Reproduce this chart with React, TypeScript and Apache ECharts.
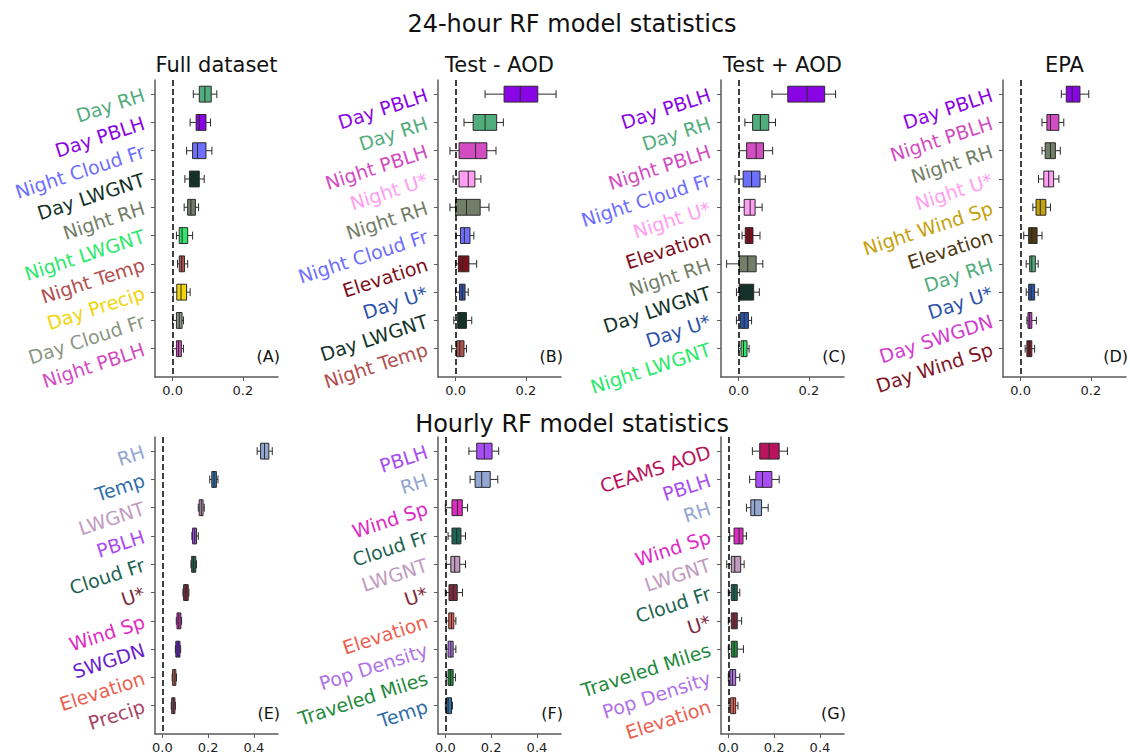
import React, { useEffect, useRef } from 'react';
import * as echarts from 'echarts';

const FONT = 'DejaVu Sans';

// ---------- Panel A: Full dataset ----------
const labelsA = ['Day RH', 'Day PBLH', 'Night Cloud Fr', 'Day LWGNT', 'Night RH', 'Night LWGNT', 'Night Temp', 'Day Precip', 'Day Cloud Fr', 'Night PBLH'];
const colorsA = ['#52ad7d', '#8a05e6', '#6e6eff', '#13332a', '#737e68', '#2de86c', '#b0504f', '#f2d40a', '#8c9684', '#d24cc2'];
// [lower whisker, Q1, median, Q3, upper whisker]
const statsA = [
  [0.059, 0.076, 0.092, 0.110, 0.126],
  [0.050, 0.067, 0.076, 0.095, 0.108],
  [0.040, 0.057, 0.071, 0.095, 0.112],
  [0.035, 0.048, 0.060, 0.076, 0.090],
  [0.033, 0.043, 0.052, 0.065, 0.074],
  [0.011, 0.019, 0.027, 0.043, 0.057],
  [0.014, 0.019, 0.026, 0.034, 0.043],
  [0.002, 0.012, 0.024, 0.040, 0.050],
  [0.000, 0.011, 0.019, 0.027, 0.031],
  [0.000, 0.011, 0.017, 0.025, 0.031],
];

// ---------- Panel B: Test - AOD ----------
const labelsB = ['Day PBLH', 'Day RH', 'Night PBLH', 'Night U*', 'Night RH', 'Night Cloud Fr', 'Elevation', 'Day U*', 'Day LWGNT', 'Night Temp'];
const colorsB = ['#8a05e6', '#52ad7d', '#d24cc2', '#ff9ef2', '#737e68', '#6e6eff', '#7d0f1c', '#2b52a8', '#13332a', '#b0504f'];
const statsB = [
  [0.084, 0.138, 0.184, 0.234, 0.286],
  [0.024, 0.050, 0.084, 0.117, 0.136],
  [-0.016, 0.010, 0.057, 0.089, 0.115],
  [-0.007, 0.010, 0.036, 0.055, 0.072],
  [-0.016, 0.000, 0.031, 0.070, 0.095],
  [0.001, 0.014, 0.025, 0.041, 0.052],
  [0.000, 0.008, 0.020, 0.038, 0.060],
  [0.000, 0.011, 0.019, 0.027, 0.036],
  [-0.005, 0.006, 0.017, 0.031, 0.046],
  [-0.011, 0.003, 0.012, 0.024, 0.031],
];

// ---------- Panel C: Test + AOD ----------
const labelsC = ['Day PBLH', 'Day RH', 'Night PBLH', 'Night Cloud Fr', 'Night U*', 'Elevation', 'Night RH', 'Day LWGNT', 'Day U*', 'Night LWGNT'];
const colorsC = ['#8a05e6', '#52ad7d', '#d24cc2', '#6e6eff', '#ff9ef2', '#7d0f1c', '#737e68', '#13332a', '#2b52a8', '#2de86c'];
const statsC = [
  [0.095, 0.140, 0.195, 0.245, 0.276],
  [0.018, 0.040, 0.062, 0.086, 0.105],
  [0.002, 0.023, 0.050, 0.071, 0.097],
  [-0.010, 0.013, 0.037, 0.061, 0.076],
  [0.002, 0.016, 0.033, 0.047, 0.067],
  [0.010, 0.019, 0.030, 0.041, 0.061],
  [-0.034, 0.002, 0.026, 0.050, 0.069],
  [-0.006, 0.002, 0.016, 0.043, 0.059],
  [-0.006, 0.005, 0.016, 0.028, 0.037],
  [0.000, 0.007, 0.014, 0.024, 0.030],
];

// ---------- Panel D: EPA ----------
const labelsD = ['Day PBLH', 'Night PBLH', 'Night RH', 'Night U*', 'Night Wind Sp', 'Elevation', 'Day RH', 'Day U*', 'Day SWGDN', 'Day Wind Sp'];
const colorsD = ['#8a05e6', '#d24cc2', '#737e68', '#ff9ef2', '#c4a20c', '#4d3812', '#52ad7d', '#2b52a8', '#d23ccf', '#7e1526'];
const statsD = [
  [0.116, 0.130, 0.147, 0.169, 0.194],
  [0.061, 0.075, 0.085, 0.109, 0.123],
  [0.061, 0.070, 0.085, 0.099, 0.113],
  [0.051, 0.066, 0.080, 0.094, 0.109],
  [0.035, 0.044, 0.056, 0.072, 0.085],
  [0.009, 0.023, 0.032, 0.047, 0.061],
  [0.016, 0.026, 0.032, 0.042, 0.050],
  [0.016, 0.023, 0.030, 0.040, 0.050],
  [0.018, 0.021, 0.026, 0.032, 0.045],
  [0.013, 0.018, 0.025, 0.032, 0.040],
];

// ---------- Panel E: Hourly ----------
const labelsE = ['RH', 'Temp', 'LWGNT', 'PBLH', 'Cloud Fr', 'U*', 'Wind Sp', 'SWGDN', 'Elevation', 'Precip'];
const colorsE = ['#94a6d2', '#2f6ea8', '#c29bc0', '#a84df5', '#1d6352', '#7d2a3c', '#e02ac4', '#6a1fcf', '#ec6050', '#a84468'];
const statsE = [
  [0.414, 0.429, 0.446, 0.465, 0.480],
  [0.207, 0.216, 0.226, 0.236, 0.243],
  [0.157, 0.161, 0.170, 0.178, 0.183],
  [0.129, 0.132, 0.141, 0.149, 0.157],
  [0.125, 0.128, 0.136, 0.146, 0.149],
  [0.090, 0.093, 0.103, 0.113, 0.116],
  [0.061, 0.064, 0.072, 0.081, 0.084],
  [0.057, 0.059, 0.068, 0.077, 0.080],
  [0.043, 0.045, 0.052, 0.059, 0.062],
  [0.039, 0.041, 0.048, 0.055, 0.057],
];

// ---------- Panel F: Hourly ----------
const labelsF = ['PBLH', 'RH', 'Wind Sp', 'Cloud Fr', 'LWGNT', 'U*', 'Elevation', 'Pop Density', 'Traveled Miles', 'Temp'];
const colorsF = ['#a84df5', '#94a6d2', '#e02ac4', '#1d6352', '#c29bc0', '#7d2a3c', '#ec6050', '#b072e6', '#1f8a3c', '#2f6ea8'];
const statsF = [
  [0.103, 0.137, 0.170, 0.204, 0.233],
  [0.108, 0.130, 0.159, 0.196, 0.229],
  [0.000, 0.029, 0.053, 0.074, 0.097],
  [0.012, 0.029, 0.049, 0.068, 0.088],
  [0.004, 0.024, 0.041, 0.063, 0.088],
  [0.000, 0.016, 0.034, 0.052, 0.075],
  [0.004, 0.015, 0.027, 0.037, 0.046],
  [0.004, 0.012, 0.024, 0.034, 0.046],
  [0.004, 0.012, 0.022, 0.034, 0.044],
  [0.000, 0.004, 0.012, 0.027, 0.031],
];

// ---------- Panel G: Hourly ----------
const labelsG = ['CEAMS AOD', 'PBLH', 'RH', 'Wind Sp', 'LWGNT', 'Cloud Fr', 'U*', 'Traveled Miles', 'Pop Density', 'Elevation'];
const colorsG = ['#b8135c', '#a84df5', '#94a6d2', '#e02ac4', '#c29bc0', '#1d6352', '#7d2a3c', '#1f8a3c', '#b072e6', '#ec6050'];
const statsG = [
  [0.105, 0.137, 0.178, 0.222, 0.258],
  [0.093, 0.120, 0.149, 0.190, 0.222],
  [0.079, 0.098, 0.115, 0.145, 0.174],
  [0.006, 0.025, 0.047, 0.064, 0.079],
  [-0.007, 0.013, 0.028, 0.054, 0.069],
  [0.000, 0.013, 0.025, 0.039, 0.050],
  [0.000, 0.013, 0.025, 0.039, 0.058],
  [0.000, 0.013, 0.025, 0.039, 0.066],
  [0.000, 0.007, 0.018, 0.032, 0.050],
  [0.003, 0.010, 0.022, 0.032, 0.042],
];

const topTicks = [0, 0.2];
const bottomTicks = [0, 0.2, 0.4];
const topTitles = ['Full dataset', 'Test - AOD', 'Test + AOD', 'EPA'];
const tags = ['(A)', '(B)', '(C)', '(D)', '(E)', '(F)', '(G)'];
const mainTitle = '24-hour RF model statistics';
const hourlyTitle = 'Hourly RF model statistics';

const GRID_W = 123;
const GRID_H = 297;
const SPINE = '#5a5a5a';
const EDGE = '#2a2a2a';

const panels = [
  { labels: labelsA, colors: colorsA, stats: statsA, left: 155, top: 80, xMin: -0.05, xMax: 0.3, ticks: topTicks },
  { labels: labelsB, colors: colorsB, stats: statsB, left: 438, top: 80, xMin: -0.05, xMax: 0.3, ticks: topTicks },
  { labels: labelsC, colors: colorsC, stats: statsC, left: 721, top: 80, xMin: -0.05, xMax: 0.3, ticks: topTicks },
  { labels: labelsD, colors: colorsD, stats: statsD, left: 1003, top: 80, xMin: -0.05, xMax: 0.3, ticks: topTicks },
  { labels: labelsE, colors: colorsE, stats: statsE, left: 155, top: 437, xMin: -0.032, xMax: 0.505, ticks: bottomTicks },
  { labels: labelsF, colors: colorsF, stats: statsF, left: 438, top: 437, xMin: -0.032, xMax: 0.505, ticks: bottomTicks },
  { labels: labelsG, colors: colorsG, stats: statsG, left: 721, top: 437, xMin: -0.032, xMax: 0.505, ticks: bottomTicks },
];

const makeRender = (colors: string[]) => (params: any, api: any) => {
  const yv = api.value(0);
  const pts = [1, 2, 3, 4, 5].map((k) => api.coord([api.value(k), yv]));
  const cy = pts[0][1];
  const band = Math.abs(api.coord([0, yv + 1])[1] - cy);
  const bh = band * 0.56;
  const ch = band * 0.28;
  const [wl, q1, md, q3, wr] = pts.map((p: number[]) => p[0]);
  const ls = { stroke: EDGE, lineWidth: 1 };
  return {
    type: 'group',
    children: [
      { type: 'line', shape: { x1: wl, y1: cy, x2: q1, y2: cy }, style: ls },
      { type: 'line', shape: { x1: q3, y1: cy, x2: wr, y2: cy }, style: ls },
      { type: 'line', shape: { x1: wl, y1: cy - ch / 2, x2: wl, y2: cy + ch / 2 }, style: ls },
      { type: 'line', shape: { x1: wr, y1: cy - ch / 2, x2: wr, y2: cy + ch / 2 }, style: ls },
      { type: 'rect', shape: { x: q1, y: cy - bh / 2, width: q3 - q1, height: bh }, style: { fill: colors[params.dataIndex], stroke: EDGE, lineWidth: 1 } },
      { type: 'line', shape: { x1: md, y1: cy - bh / 2, x2: md, y2: cy + bh / 2 }, style: ls },
    ],
  };
};

export default function App() {
  const ref = useRef<HTMLDivElement>(null);
  useEffect(() => {
    if (!ref.current) return;
    const chart = echarts.init(ref.current, undefined, { renderer: 'svg' });
    const catIdx = [0, 1, 2, 3, 4, 5, 6, 7, 8, 9];

    const grid = panels.map((p) => ({
      left: p.left, top: p.top, width: GRID_W, height: GRID_H,
      containLabel: false, outerBoundsMode: 'none',
    }));

    const xAxis = panels.map((p, i) => ({
      type: 'value', gridIndex: i, min: p.xMin, max: p.xMax,
      splitLine: { show: false },
      axisLine: { show: true, onZero: false, lineStyle: { color: SPINE, width: 1.5 } },
      axisTick: { show: true, customValues: p.ticks, length: 4, lineStyle: { color: SPINE, width: 1 } },
      axisLabel: {
        customValues: p.ticks, margin: 7, fontSize: 13, fontFamily: FONT, color: '#222',
        formatter: (v: number) => Number(v).toFixed(1),
      },
    }));

    const yAxis = panels.map((p, i) => ({
      type: 'value', gridIndex: i, min: -0.5, max: 10, inverse: true,
      splitLine: { show: false },
      axisLine: { show: true, onZero: false, lineStyle: { color: SPINE, width: 1.5 } },
      axisTick: { show: true, customValues: catIdx, length: 4, lineStyle: { color: SPINE, width: 1 } },
      axisLabel: {
        customValues: catIdx, rotate: 18, margin: 11, fontSize: 19, fontFamily: FONT,
        formatter: (v: number) => p.labels[Math.round(Number(v))] ?? '',
        color: (v: any) => p.colors[Math.round(Number(v))] ?? '#000',
      },
    }));

    const series = panels.map((p, i) => ({
      type: 'custom', xAxisIndex: i, yAxisIndex: i,
      data: p.stats.map((s, j) => [j, ...s]),
      encode: { x: [1, 2, 3, 4, 5], y: 0 },
      renderItem: makeRender(p.colors),
      clip: false,
      markLine: {
        silent: true, symbol: 'none', label: { show: false },
        lineStyle: { type: [6, 3], color: '#000', width: 1.5 },
        data: [{ xAxis: 0 }],
      },
    }));

    const textEl = (text: string, x: number, y: number, size: number, align: string) => ({
      type: 'text', x, y,
      style: {
        text, fill: '#111', font: `${size}px "${FONT}"`,
        align, verticalAlign: 'middle', textAlign: align, textVerticalAlign: 'middle',
      },
    });

    const graphic: any[] = [
      textEl(mainTitle, 572, 24, 24, 'center'),
      textEl(hourlyTitle, 572, 424, 24, 'center'),
      ...topTitles.map((t, i) => textEl(t, panels[i].left + GRID_W / 2, 65, 21, 'center')),
      ...panels.map((p, i) => textEl(tags[i], p.left + GRID_W + 2, p.top + GRID_H - 21, 16, 'right')),
    ];

    chart.setOption({
      animation: false,
      backgroundColor: '#fff',
      textStyle: { fontFamily: FONT },
      grid, xAxis, yAxis, series, graphic,
    } as any);
    return () => chart.dispose();
  }, []);
  return <div ref={ref} style={{ position: 'fixed', left: 0, top: 0, width: 1130, height: 755 }} />;
}
